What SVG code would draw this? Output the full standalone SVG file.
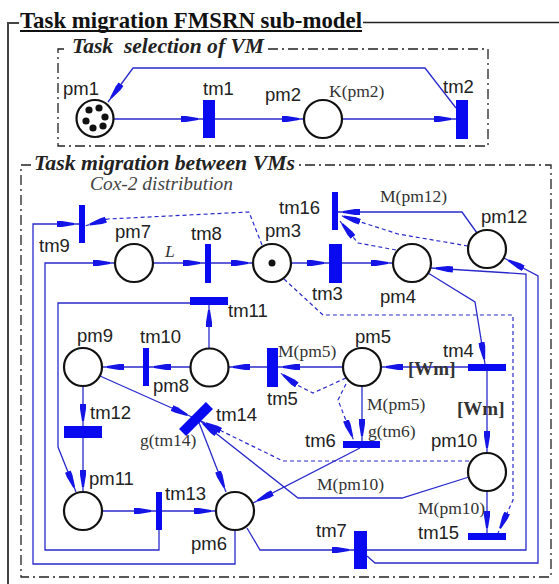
<svg xmlns="http://www.w3.org/2000/svg" width="559" height="584" viewBox="0 0 559 584">
<style>
.s{font-family:"Liberation Sans",Arial,sans-serif;font-size:18.5px;fill:#222}
.r{font-family:"Liberation Serif","Times New Roman",serif;font-size:17.5px;fill:#333}
.b{font-family:"Liberation Serif","Times New Roman",serif;font-size:19px;font-weight:bold;fill:#333}
.p{fill:#fff;stroke:#111;stroke-width:2.2}
.t{fill:#0a0af0}
.c{fill:none;stroke:#2a2acc;stroke-width:1.3}
.d{fill:none;stroke:#2a2acc;stroke-width:1.2;stroke-dasharray:4 3}
.f{fill:none;stroke:#222;stroke-width:1.3;stroke-dasharray:10 4 2 4}
</style>
<defs>
<marker id="a" markerUnits="userSpaceOnUse" markerWidth="24" markerHeight="10" viewBox="0 -5 24 10" refX="22" refY="0" orient="auto"><path d="M0,-3 L5,-3 L17,-1 L17,1 L5,3 L0,3Z" fill="#1414e6"/></marker>
</defs>
<rect width="559" height="584" fill="#fff"/>
<g id="frames">
<path d="M363,22.5 L559,22.5" stroke="#222" stroke-width="1.5"/>
<path d="M19,23 L8,23 L8,584" fill="none" stroke="#444" stroke-width="2"/>
<text x="20" y="28" font-family="Liberation Serif,Times New Roman,serif" font-size="22.5" font-weight="bold" fill="#111" textLength="342" lengthAdjust="spacingAndGlyphs">Task migration FMSRN sub-model</text>
<path d="M20,31 L362,31" stroke="#111" stroke-width="2"/>
<path class="f" d="M64,49 L58,49 L58,146 L488,146 L488,49 L266,49"/>
<text x="72" y="53" font-family="Liberation Serif,Times New Roman,serif" font-size="21" font-weight="bold" font-style="italic" fill="#222" textLength="192" lengthAdjust="spacingAndGlyphs" style="white-space:pre">Task  selection of VM</text>
<path class="f" d="M31,165 L21,165 L21,577 L551,577 L551,165 L297,165"/>
<text x="34" y="170" font-family="Liberation Serif,Times New Roman,serif" font-size="20.5" font-weight="bold" font-style="italic" fill="#222" textLength="261" lengthAdjust="spacingAndGlyphs">Task migration between VMs</text>
<text x="90" y="190" font-family="Liberation Serif,Times New Roman,serif" font-size="18" font-style="italic" fill="#444" textLength="143" lengthAdjust="spacingAndGlyphs">Cox-2 distribution</text>
</g>
<g id="connectors">
<path class="c" d="M113.5,119 L203,119" marker-end="url(#a)"/>
<path class="c" d="M215,119 L304,119" marker-end="url(#a)"/>
<path class="c" d="M342,119 L456,119" marker-end="url(#a)"/>
<path class="c" d="M456,108 L425,68 L133,68 L108,102" marker-end="url(#a)" stroke="#222299" stroke-width="1.1"/>
<path class="c" d="M235,530 L235,564 L33,564 L33,224 L79,224" marker-end="url(#a)"/>
<path class="c" d="M159,530 L159,550 L45,550 L45,263 L115,263" marker-end="url(#a)"/>
<path class="c" d="M153,263 L205,263" marker-end="url(#a)"/>
<path class="c" d="M211,263 L253,263" marker-end="url(#a)"/>
<path class="c" d="M291,263 L329,263" marker-end="url(#a)"/>
<path class="c" d="M342,263 L393,263" marker-end="url(#a)"/>
<path class="d" d="M262,245 L249,212 L108,219 L85,226" marker-end="url(#a)"/>
<path class="c" d="M477,233 L462,212 L338,212" marker-end="url(#a)"/>
<path class="d" d="M468,246 L398,234 L339,215" marker-end="url(#a)"/>
<path class="d" d="M396,250 L358,243 L339,220" marker-end="url(#a)"/>
<path class="d" d="M284,279 L323,315 L513,315 L513,500 L498,533" marker-end="url(#a)"/>
<path class="c" d="M367,550 L526,550 L526,274 L431,268" marker-end="url(#a)"/>
<path class="c" d="M367,556 L375,563 L538,563 L538,276 L504,258" marker-end="url(#a)"/>
<path class="c" d="M428,273 L475,302 L485,364" marker-end="url(#a)"/>
<path class="c" d="M468,367 L381,367" marker-end="url(#a)"/>
<path class="c" d="M487,370 L487,453" marker-end="url(#a)"/>
<path class="c" d="M343,367 L278,367" marker-end="url(#a)"/>
<path class="d" d="M346,378 L313,393 L297,385 L279,372" marker-end="url(#a)"/>
<path class="c" d="M267,367 L228,367" marker-end="url(#a)"/>
<path class="c" d="M209,348 L209,305" marker-end="url(#a)"/>
<path class="c" d="M190,303 L58,303 L58,447 L76,492" marker-end="url(#a)"/>
<path class="c" d="M191,367 L149,367" marker-end="url(#a)"/>
<path class="c" d="M143,367 L102,367" marker-end="url(#a)"/>
<path class="c" d="M83,386 L83,426" marker-end="url(#a)"/>
<path class="c" d="M83,438 L83,492" marker-end="url(#a)"/>
<path class="c" d="M100,376 L192,417" marker-end="url(#a)"/>
<path class="c" d="M102,511 L156,511" marker-end="url(#a)"/>
<path class="c" d="M162,511 L216,511" marker-end="url(#a)"/>
<path class="c" d="M198,420 L226,492" marker-end="url(#a)"/>
<path class="c" d="M362,386 L362,441" marker-end="url(#a)"/>
<path class="d" d="M346,384 L338,400 L354,441" marker-end="url(#a)"/>
<path class="c" d="M360,448 L253,503" marker-end="url(#a)"/>
<path class="c" d="M469,477 L402,498 L298,498 L199,420" marker-end="url(#a)"/>
<path class="d" d="M469,461 L283,461 L201,421" marker-end="url(#a)"/>
<path class="c" d="M247,528 L260,550 L354,550" marker-end="url(#a)"/>
<path class="c" d="M487,491 L487,533" marker-end="url(#a)"/>
</g>
<g id="pm1"><circle class="p" cx="95" cy="118.5" r="18.5"/>
<g fill="#111"><circle cx="89" cy="110" r="3.6"/><circle cx="99" cy="108" r="3.6"/><circle cx="105" cy="117" r="3.6"/><circle cx="103" cy="126" r="3.6"/><circle cx="93" cy="128" r="3.6"/><circle cx="86" cy="121" r="3.6"/></g>
<text class="s" x="63" y="95">pm1</text></g>
<g id="tm1"><rect class="t" x="203" y="100" width="12" height="38"/><text class="s" x="203" y="95">tm1</text></g>
<g id="pm2"><circle class="p" cx="323" cy="119" r="19"/><text class="s" x="265" y="101">pm2</text><text class="r" x="329" y="97">K(pm2)</text></g>
<g id="tm2"><rect class="t" x="456" y="100" width="12" height="39"/><text class="s" x="443" y="93">tm2</text></g>
<g id="tm9"><rect class="t" x="79" y="205" width="6" height="38"/><text class="s" x="39" y="252">tm9</text></g>
<g id="pm7"><circle class="p" cx="134" cy="263" r="19"/><text class="s" x="115" y="238">pm7</text><text class="r" x="165" y="257" font-style="italic">L</text></g>
<g id="tm8"><rect class="t" x="205" y="244" width="6" height="39"/><text class="s" x="191" y="240">tm8</text></g>
<g id="pm3"><circle class="p" cx="272" cy="263" r="19"/><circle cx="272" cy="263" r="3.5" fill="#111"/><text class="s" x="265" y="237">pm3</text></g>
<g id="tm16"><rect class="t" x="332" y="192" width="6" height="38"/><text class="s" x="279" y="214">tm16</text><text class="r" x="380" y="202">M(pm12)</text></g>
<g id="tm3"><rect class="t" x="329" y="244" width="13" height="39"/><text class="s" x="312" y="300">tm3</text></g>
<g id="pm4"><circle class="p" cx="412" cy="263" r="19"/><text class="s" x="380" y="303">pm4</text></g>
<g id="pm12"><circle class="p" cx="487" cy="249" r="19"/><text class="s" x="481" y="223">pm12</text></g>
<g id="tm11"><rect class="t" x="190" y="297" width="38" height="8"/><text class="s" x="228" y="317">tm11</text></g>
<g id="pm8"><circle class="p" cx="209.5" cy="367.5" r="19"/><text class="s" x="153" y="392">pm8</text></g>
<g id="tm10"><rect class="t" x="143" y="348" width="6" height="38"/><text class="s" x="140" y="343">tm10</text></g>
<g id="pm9"><circle class="p" cx="83" cy="367" r="19"/><text class="s" x="77" y="342">pm9</text></g>
<g id="pm5"><circle class="p" cx="362" cy="367" r="19"/><text class="s" x="355" y="343">pm5</text><text class="r" x="367" y="410">M(pm5)</text></g>
<g id="tm5"><rect class="t" x="267" y="348" width="11" height="39"/><text class="s" x="267" y="405">tm5</text><text class="r" x="278" y="357">M(pm5)</text></g>
<g id="tm4"><rect class="t" x="468" y="364" width="38" height="7"/><text class="s" x="443" y="357">tm4</text><text class="b" x="408" y="375">[Wm]</text><text class="b" x="457" y="415">[Wm]</text></g>
<g id="tm12"><rect class="t" x="64" y="426" width="38" height="12"/><text class="s" x="90" y="419">tm12</text></g>
<g id="tm14"><rect class="t" x="-19" y="-5" width="38" height="10" transform="translate(196,419) rotate(-45)"/><text class="s" x="216" y="421">tm14</text><text class="r" x="140" y="446">g(tm14)</text></g>
<g id="tm6"><rect class="t" x="343" y="441" width="37" height="7"/><text class="s" x="305" y="447">tm6</text><text class="r" x="368" y="437">g(tm6)</text></g>
<g id="pm10"><circle class="p" cx="487" cy="472" r="19"/><text class="s" x="431" y="447">pm10</text><text class="r" x="317" y="490">M(pm10)</text><text class="r" x="418" y="514">M(pm10)</text></g>
<g id="pm11"><circle class="p" cx="83" cy="511" r="19"/><text class="s" x="89" y="485">pm11</text></g>
<g id="tm13"><rect class="t" x="156" y="492" width="6" height="38"/><text class="s" x="165" y="500">tm13</text></g>
<g id="pm6"><circle class="p" cx="235" cy="511" r="19"/><text class="s" x="191" y="550">pm6</text></g>
<g id="tm7"><rect class="t" x="354" y="531" width="13" height="38"/><text class="s" x="316" y="537">tm7</text></g>
<g id="tm15"><rect class="t" x="468" y="533" width="38" height="7"/><text class="s" x="418" y="539">tm15</text></g>
</svg>
